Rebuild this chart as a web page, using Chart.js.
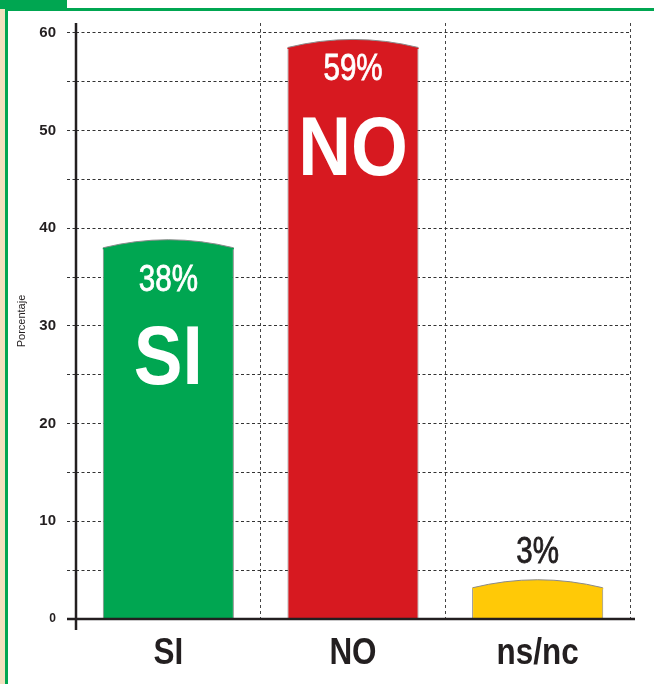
<!DOCTYPE html>
<html>
<head>
<meta charset="utf-8">
<script src="https://cdn.jsdelivr.net/npm/chart.js@4"></script>
<style>
  body { margin: 0; background: #fff; }
  #wrap { position: relative; width: 654px; height: 684px; overflow: hidden; background: #fff; }
  #beige { position: absolute; left: 0; top: 0; width: 5px; height: 684px; background: #f2e1bf; }
  #greenLeft { position: absolute; left: 5px; top: 8px; width: 3px; height: 676px; background: #00a651; }
  #greenTop { position: absolute; left: 5px; top: 8px; width: 649px; height: 3px; background: #00a651; }
  #tab { position: absolute; left: 0; top: 0; width: 67px; height: 9px; background: #00a651; }
  canvas { position: absolute; left: 0; top: 0; }
</style>
</head>
<body>
<div id="wrap">
  <div id="beige"></div>
  <div id="greenLeft"></div>
  <div id="greenTop"></div>
  <div id="tab"></div>
  <canvas id="chart" width="654" height="684"></canvas>
</div>
<script>
const categories = ["SI", "NO", "ns/nc"];
const values = [38, 58.5, 3.2];
const pctLabels = ["38%", "59%", "3%"];
const bigLabels = ["SI", "NO", ""];
const barColors = ["#00a651", "#d71920", "#ffc907"];
const yTickValues = [0, 5, 10, 15, 20, 25, 30, 35, 40, 45, 50, 55, 60];

// draw text squeezed horizontally (condensed look)
function drawText(ctx, text, x, y, font, color, sx, thicken) {
    ctx.save();
    ctx.font = font;
    ctx.fillStyle = color;
    ctx.textAlign = "center";
    ctx.textBaseline = "middle";
    ctx.translate(x, y);
    ctx.scale(sx, 1);
    ctx.fillText(text, 0, 0);
    if (thicken) {
        ctx.strokeStyle = color;
        ctx.lineWidth = thicken;
        ctx.strokeText(text, 0, 0);
    }
    ctx.restore();
}

const barDecor = {
    id: "barDecor",
    afterDatasetsDraw(chart) {
        const ctx = chart.ctx;
        const meta = chart.getDatasetMeta(0);
        const bulge = 8;
        meta.data.forEach((bar, i) => {
            const left = bar.x - bar.width / 2;
            const right = bar.x + bar.width / 2;
            // rounded cap on top of the bar
            ctx.save();
            ctx.beginPath();
            ctx.moveTo(left, bar.y + 1.5);
            ctx.lineTo(left, bar.y);
            ctx.quadraticCurveTo(bar.x, bar.y - 2 * bulge, right, bar.y);
            ctx.lineTo(right, bar.y + 1.5);
            ctx.closePath();
            ctx.fillStyle = barColors[i];
            ctx.fill();
            ctx.beginPath();
            ctx.moveTo(left + 0.5, bar.y);
            ctx.quadraticCurveTo(bar.x, bar.y - 2 * bulge, right - 0.5, bar.y);
            ctx.strokeStyle = "#8a8a8a";
            ctx.lineWidth = 1;
            ctx.stroke();
            ctx.restore();
        });

        const pctOffset = [33, 23, -35];
        const bigOffset = [113, 104, 0];
        meta.data.forEach((bar, i) => {
            const inside = bigLabels[i] !== "";
            drawText(ctx, pctLabels[i], bar.x, bar.y + pctOffset[i],
                "36px 'Liberation Sans'", inside ? "#ffffff" : "#231f20", 0.82, 0.8);
            if (inside) {
                drawText(ctx, bigLabels[i], bar.x, bar.y + bigOffset[i],
                    "bold 84px 'Liberation Sans'", "#ffffff", 0.87);
            }
        });

        // category names under the axis
        const xs = chart.scales.x, ys = chart.scales.y;
        categories.forEach((c, i) => {
            drawText(ctx, c, xs.getPixelForTick(i), xs.top + 35,
                "bold 37px 'Liberation Sans'", "#231f20", 0.85);
        });

        // solid axis lines
        const y0 = ys.getPixelForValue(0);
        ctx.save();
        ctx.strokeStyle = "#231f20";
        ctx.lineWidth = 2.5;
        ctx.beginPath();
        ctx.moveTo(xs.left - 9, y0);
        ctx.lineTo(xs.right + 5, y0);
        ctx.moveTo(ys.right, chart.chartArea.top);
        ctx.lineTo(ys.right, y0 + 11);
        ctx.stroke();
        ctx.restore();
    }
};

new Chart(document.getElementById("chart"), {
    type: "bar",
    data: {
        labels: categories,
        datasets: [{
            data: values,
            backgroundColor: barColors,
            borderColor: "#8a8a8a",
            borderWidth: 1,
            borderSkipped: "start",
            categoryPercentage: 0.71,
            barPercentage: 1
        }]
    },
    options: {
        responsive: false,
        animation: false,
        layout: { padding: { top: 23, left: 0, right: 24, bottom: 0 } },
        plugins: {
            legend: { display: false },
            tooltip: { enabled: false }
        },
        scales: {
            x: {
                grid: {
                    offset: true,
                    color: "#444",
                    lineWidth: ctx => ctx.index === 3 ? 2 : 1,
                    drawTicks: false
                },
                border: { display: false, dash: [3, 3] },
                ticks: { display: false },
                afterFit: scale => { scale.height = 65; }
            },
            y: {
                min: 0,
                max: 61,
                afterBuildTicks: scale => {
                    scale.ticks = yTickValues.map(v => ({ value: v }));
                },
                grid: {
                    color: "#333",
                    lineWidth: 1,
                    tickLength: 9,
                    tickColor: "#333",
                    tickBorderDash: [3, 2.5]
                },
                border: { display: false, dash: [3, 2.5] },
                ticks: {
                    padding: 11,
                    color: "#231f20",
                    font: ctx => ({ family: "'Liberation Sans'", size: ctx.tick && ctx.tick.value === 0 ? 12 : 15, weight: "bold" }),
                    callback: v => v % 10 === 0 ? v : ""
                },
                title: {
                    display: true,
                    text: "Porcentaje",
                    color: "#231f20",
                    font: { family: "'Liberation Sans'", size: 11 },
                    padding: { top: 15, bottom: 0 }
                },
                afterFit: scale => { scale.width = 76; }
            }
        }
    },
    plugins: [barDecor]
});
</script>
</body>
</html>
